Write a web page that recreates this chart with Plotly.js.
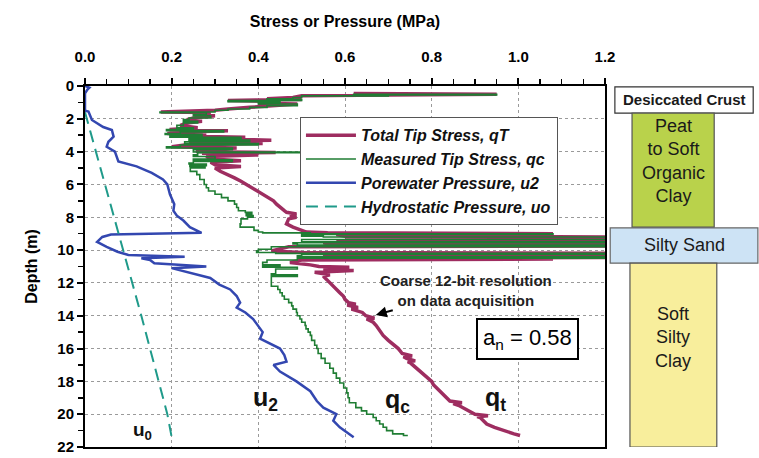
<!DOCTYPE html>
<html>
<head>
<meta charset="utf-8">
<script src="https://cdn.plot.ly/plotly-3.0.1.min.js"></script>
<style>html,body{margin:0;padding:0;background:#fff;}#chart{width:759px;height:458px;}</style>
</head>
<body>
<div id="chart"></div>
<script>
// ---- Data (depth in m, stress/pressure in MPa) ----
const qtDepth = [0.45,0.5,0.55,0.6,0.7,0.78,0.82,0.88,0.95,1.05,1.1,1.2,1.3,1.4,1.48,1.58,1.62,1.75,1.82,1.95,2.05,2.15,2.25,2.4,2.55,2.65,2.72,2.8,2.9,2.95,3.05,3.12,3.2,3.3,3.4,3.5,3.6,3.7,3.78,3.88,4.0,4.05,4.1,4.2,4.3,4.45,4.55,4.65,4.8,4.9,5.0,5.2,5.4,5.6,5.8,6.0,6.2,6.4,6.6,6.8,7.0,7.2,7.4,7.6,7.7,7.8,7.9,8.0,8.1,8.4,8.6,8.8,8.9,8.95,9.0,9.05,9.15,9.2,9.3,9.35,9.4,9.45,9.5,9.55,9.62,9.7,9.75,9.8,9.95,10.05,10.15,10.2,10.25,10.35,10.4,10.45,10.5,10.55,10.6,10.75,10.9,11.0,11.05,11.15,11.25,11.35,11.5,11.6,
  11.8,12.0,12.2,12.4,12.6,12.8,13.0,13.2,13.3,13.35,13.5,13.6,13.8,14.0,14.15,14.2,14.4,14.6,14.8,15.0,15.2,15.5,15.8,16.0,16.3,16.45,16.5,16.6,16.75,16.8,16.9,17.2,17.5,17.8,18.0,18.2,18.5,18.8,19.0,19.2,19.3,19.35,19.5,19.8,20.0,20.1,20.15,20.2,20.4,20.6,20.8,21.0,21.2,21.3];
const qtValue = [0.62,0.95,0.70,0.50,0.48,0.42,0.50,0.33,0.45,0.40,0.49,0.42,0.38,0.33,0.30,0.175,0.29,0.26,0.30,0.25,0.235,0.27,0.235,0.22,0.26,0.195,0.33,0.23,0.19,0.28,0.21,0.37,0.25,0.43,0.24,0.41,0.23,0.20,0.35,0.26,0.26,0.44,0.27,0.40,0.28,0.29,0.36,0.29,0.30,0.36,0.30,0.312,0.331,0.345,0.36,0.373,0.385,0.40,0.412,0.425,0.435,0.442,0.45,0.46,0.465,0.488,0.473,0.488,0.47,0.465,0.48,0.50,0.511,0.56,1.08,0.58,0.60,1.25,1.25,0.60,1.10,0.58,1.25,0.55,0.56,1.25,1.25,0.47,0.44,0.43,0.50,1.25,0.56,0.55,1.25,1.25,0.55,1.08,0.50,0.473,0.52,0.54,0.61,0.55,0.62,0.53,0.565,0.55,
  0.558,0.565,0.572,0.58,0.588,0.596,0.60,0.608,0.625,0.605,0.63,0.615,0.64,0.648,0.668,0.65,0.665,0.672,0.677,0.683,0.688,0.70,0.715,0.723,0.732,0.755,0.735,0.742,0.762,0.745,0.752,0.765,0.778,0.792,0.80,0.804,0.815,0.827,0.835,0.842,0.87,0.85,0.865,0.888,0.90,0.93,0.905,0.912,0.92,0.927,0.945,0.965,0.99,1.004];

const qcDepth = [0.45,0.5,0.55,0.6,0.7,0.78,0.82,0.88,0.95,1.05,1.1,1.2,1.3,1.4,1.48,1.58,1.62,1.75,1.82,1.95,2.05,2.15,2.25,2.4,2.55,2.65,2.72,2.8,2.9,2.95,3.05,3.12,3.2,3.3,3.4,3.5,3.6,3.7,3.78,3.88,4.0,4.02,4.06,4.2,4.3,4.45,4.5,4.6,4.7,4.75,4.85,4.9,5.0,5.2,5.4,5.6,5.7,6.0,6.2,6.4,6.6,6.8,7.0,7.2,7.4,7.6,7.7,7.8,7.9,8.0,8.1,8.4,8.6,8.8,8.9,8.95,9.0,9.05,9.15,9.2,9.3,9.35,9.45,9.5,9.55,9.62,9.7,9.75,9.8,9.95,10.05,10.15,10.2,10.25,10.35,10.4,10.45,10.5,10.6,10.75,10.9,11.0,11.05,11.15,11.3,11.45,11.5,11.6,12.0,12.2,12.4,12.6,12.8,13.0,13.2,13.4,13.6,13.8,14.0,14.2,14.4,14.6,14.8,15.0,15.2,15.5,15.8,16.0,16.3,16.6,16.9,17.2,17.5,17.8,18.1,18.4,18.7,19.0,19.3,19.6,19.8,20.0,20.2,20.4,20.6,20.8,21.0,21.2,21.3];
const qcValue = [0.62,0.95,0.70,0.50,0.48,0.42,0.50,0.33,0.45,0.40,0.49,0.42,0.38,0.33,0.30,0.173,0.28,0.25,0.29,0.24,0.227,0.26,0.227,0.212,0.25,0.188,0.32,0.22,0.185,0.27,0.196,0.36,0.24,0.38,0.23,0.40,0.22,0.188,0.34,0.25,0.25,0.50,0.26,0.25,0.30,0.25,0.34,0.25,0.24,0.28,0.242,0.277,0.243,0.258,0.265,0.265,0.275,0.28,0.285,0.30,0.315,0.33,0.345,0.35,0.354,0.37,0.385,0.372,0.388,0.375,0.36,0.358,0.39,0.40,0.41,0.52,1.08,0.50,0.55,1.25,1.25,0.50,0.50,1.25,0.48,0.49,1.25,1.25,0.43,0.40,0.396,0.44,1.25,0.50,0.49,1.25,1.25,0.49,0.42,0.41,0.45,0.41,0.49,0.44,0.44,0.43,0.49,0.43,0.43,0.445,0.45,0.455,0.46,0.47,0.477,0.48,0.488,0.49,0.496,0.50,0.508,0.51,0.515,0.52,0.523,0.53,0.535,0.538,0.545,0.554,0.565,0.573,0.58,0.588,0.597,0.604,0.607,0.61,0.625,0.638,0.65,0.665,0.672,0.68,0.688,0.696,0.71,0.735,0.745];

const u2Depth = [0.0,0.1,0.2,0.3,0.45,1.5,1.56,2.07,2.5,2.68,3.09,3.4,3.7,4.0,4.3,4.6,4.9,5.3,5.7,6.0,6.6,7.2,7.6,7.9,8.2,8.6,8.95,9.05,9.2,9.5,9.8,10.1,10.3,10.4,10.5,10.6,10.8,11.0,11.1,11.4,11.7,12.1,12.4,12.8,13.2,13.5,13.8,14.2,14.6,15.0,15.4,16.0,16.4,16.8,17.0,17.4,18.0,18.6,19.2,19.6,20.0,20.4,20.8,21.2,21.4];
const u2Value = [0.0,0.01,0.006,0.003,0.0,0.0,0.008,0.016,0.042,0.062,0.066,0.054,0.05,0.069,0.073,0.077,0.119,0.154,0.18,0.19,0.196,0.206,0.204,0.212,0.227,0.242,0.269,0.06,0.04,0.028,0.05,0.075,0.10,0.23,0.13,0.15,0.16,0.28,0.20,0.245,0.289,0.31,0.335,0.35,0.358,0.35,0.37,0.388,0.40,0.41,0.404,0.45,0.46,0.465,0.435,0.45,0.488,0.52,0.535,0.55,0.58,0.573,0.588,0.61,0.62];

const u0Depth = [1.6, 8.0, 14.0, 20.0, 21.4];
const u0Value = [0.0, 0.068, 0.13, 0.19, 0.20];

const xTicks = [0, 0.2, 0.4, 0.6, 0.8, 1.0, 1.2];
const yTicks = [0, 2, 4, 6, 8, 10, 12, 14, 16, 18, 20, 22];

const layerNames = ['Desiccated Crust', 'Peat<br>to Soft<br>Organic<br>Clay', 'Silty Sand', 'Soft<br>Silty<br>Clay'];
const layerTop = [0.05, 1.65, 8.65, 10.8];
const layerBottom = [1.65, 8.6, 10.8, 22.0];

// ---- Styling ----
const F = 'Liberation Sans, Arial, sans-serif';
const layerStyle = [
  {x0: 1.019, x1: 1.285, fill: '#ffffff', line: '#333333', tx: 1.152, ty: 0.85, size: 15, bold: true},
  {x0: 1.052, x1: 1.210, fill: '#b9d24b', line: '#555555', tx: 1.131, ty: 4.6, size: 18},
  {x0: 1.010, x1: 1.294, fill: '#cde3f5', line: '#666666', tx: 1.152, ty: 9.7, size: 18},
  {x0: 1.048, x1: 1.215, fill: '#f8ee9c', line: '#555555', tx: 1.131, ty: 15.3, size: 18}
];

const traces = [
  {x: qtValue, y: qtDepth, name: '<b><i>Total Tip Stress, qT</i></b>', mode: 'lines',
   line: {color: '#9e2d60', width: 3.5}},
  {x: qcValue, y: qcDepth, name: '<b><i>Measured Tip Stress, qc</i></b>', mode: 'lines',
   line: {color: '#1f7d33', width: 1.6, shape: 'vh'}},
  {x: u2Value, y: u2Depth, name: '<b><i>Porewater Pressure, u2</i></b>', mode: 'lines',
   line: {color: '#3347b0', width: 2.5}},
  {x: u0Value, y: u0Depth, name: '<b><i>Hydrostatic Pressure, uo</i></b>', mode: 'lines',
   line: {color: '#1f9a8a', width: 2, dash: '12px,7px'}}
];

const shapes = layerNames.map((n, i) => ({
  type: 'rect', xref: 'paper', yref: 'y',
  x0: layerStyle[i].x0, x1: layerStyle[i].x1, y0: layerTop[i], y1: layerBottom[i],
  fillcolor: layerStyle[i].fill, line: {color: layerStyle[i].line, width: 1.2}, layer: 'above'
}));

const annotations = layerNames.map((n, i) => ({
  xref: 'paper', yref: 'y', x: layerStyle[i].tx, y: layerStyle[i].ty,
  xanchor: 'center', yanchor: 'middle',
  text: layerStyle[i].bold ? '<b>' + n + '</b>' : n, showarrow: false,
  font: {family: F, size: layerStyle[i].size, color: '#1a1a1a'}
}));

annotations.push(
  {xref: 'x', yref: 'y', x: 0.671, y: 13.95, axref: 'x', ayref: 'y', ax: 0.880, ay: 12.45,
   text: '<b>Coarse 12-bit resolution<br>on data acquisition</b>',
   showarrow: true, arrowhead: 2, arrowsize: 1.1, arrowwidth: 2, arrowcolor: '#000',
   font: {family: F, size: 15, color: '#222'}, align: 'center'},
  {xref: 'x', yref: 'y', x: 1.02, y: 15.42, text: 'a<sub>n</sub> = 0.58', showarrow: false,
   xanchor: 'center', yanchor: 'middle',
   font: {family: F, size: 22, color: '#000'}, bordercolor: '#000', borderwidth: 2, borderpad: 5, bgcolor: '#fff'},
  {xref: 'x', yref: 'y', x: 0.417, y: 19.1, text: '<b>u<sub>2</sub></b>', showarrow: false,
   font: {family: F, size: 25, color: '#111'}},
  {xref: 'x', yref: 'y', x: 0.722, y: 19.2, text: '<b>q<sub>c</sub></b>', showarrow: false,
   font: {family: F, size: 25, color: '#111'}},
  {xref: 'x', yref: 'y', x: 0.948, y: 19.1, text: '<b>q<sub>t</sub></b>', showarrow: false,
   font: {family: F, size: 25, color: '#111'}},
  {xref: 'x', yref: 'y', x: 0.132, y: 21.05, text: '<b>u<sub>0</sub></b>', showarrow: false,
   font: {family: F, size: 19, color: '#111'}}
);

const layout = {
  width: 759, height: 458,
  margin: {l: 85, r: 154, t: 86, b: 11},
  paper_bgcolor: '#fff', plot_bgcolor: '#fff',
  font: {family: F, color: '#000'},
  showlegend: true,
  legend: {x: 0.413, y: 0.914, xanchor: 'left', yanchor: 'top', bgcolor: '#fff',
           bordercolor: '#555', borderwidth: 1.2, font: {family: F, size: 16, color: '#111'},
           itemwidth: 50, tracegroupgap: 0},
  xaxis: {
    side: 'top', range: [0, 1.2], tickvals: xTicks, ticktext: xTicks.map(v => v.toFixed(1)),
    showline: true, linecolor: '#000', linewidth: 2, mirror: true,
    ticks: 'outside', ticklen: 6, tickwidth: 2, tickcolor: '#000',
    minor: {dtick: 0.05, ticks: 'outside', ticklen: 5, tickwidth: 1.5, tickcolor: '#000', showgrid: false},
    showgrid: true, gridcolor: '#9a9a9a', griddash: 'dot', gridwidth: 1,
    zeroline: false, ticklabelstandoff: 10,
    tickfont: {family: F, size: 15, color: '#000', weight: 'bold'},
    title: {text: '<b>Stress or Pressure (MPa)</b>', font: {family: F, size: 16, color: '#000'}, standoff: 16}
  },
  yaxis: {
    range: [22, 0], tickvals: yTicks,
    showline: true, linecolor: '#000', linewidth: 2, mirror: true,
    ticks: 'outside', ticklen: 6, tickwidth: 2, tickcolor: '#000',
    minor: {dtick: 1, ticks: 'outside', ticklen: 5, tickwidth: 1.5, tickcolor: '#000', showgrid: false},
    showgrid: true, gridcolor: '#9a9a9a', griddash: 'dot', gridwidth: 1,
    zeroline: false,
    tickfont: {family: F, size: 15, color: '#000', weight: 'bold'},
    title: {text: '<b>Depth (m)</b>', font: {family: F, size: 16, color: '#000'}, standoff: 16}
  },
  shapes: shapes,
  annotations: annotations
};

Plotly.newPlot('chart', traces, layout, {displayModeBar: false, staticPlot: true});
</script>
</body>
</html>
